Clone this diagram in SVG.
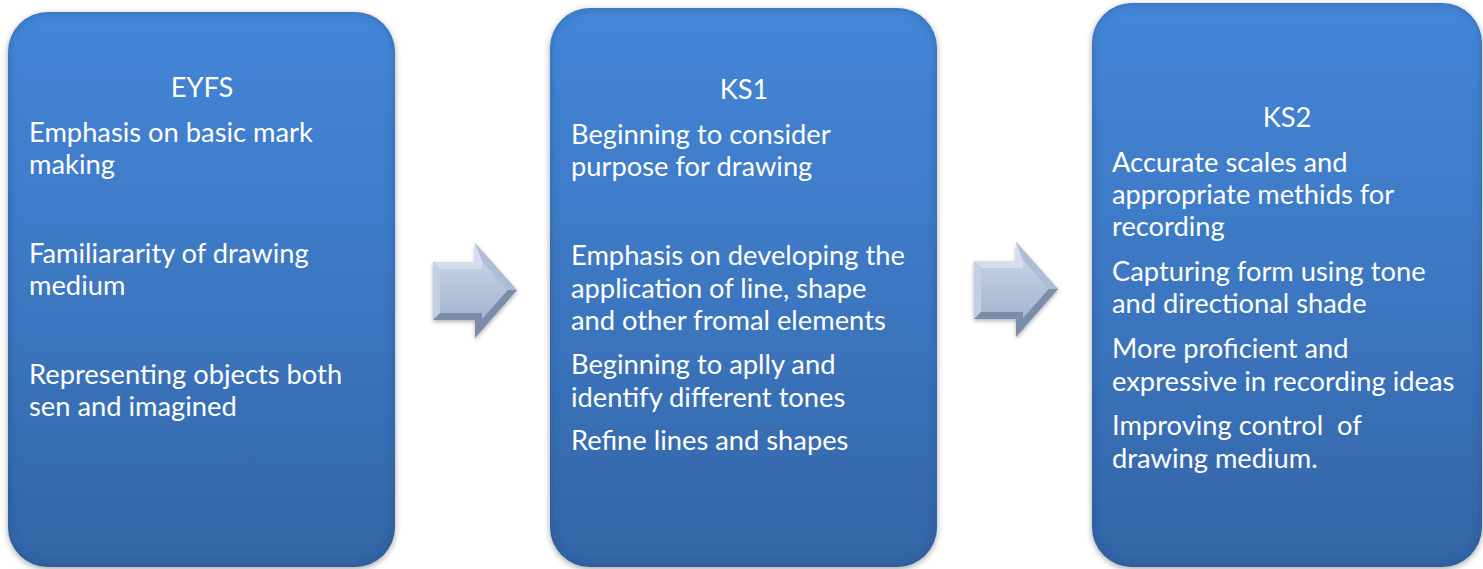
<svg xmlns="http://www.w3.org/2000/svg" width="1483" height="569" viewBox="0 0 1483 569">
  <style>
    .box { fill: url(#boxFill); filter: url(#boxFx); }
    .title { font-family: Lato, "Open Sans", sans-serif; font-size: 27.3px; fill: #ffffff; text-anchor: middle; }
    .body { font-family: Lato, "Open Sans", sans-serif; font-size: 27.3px; fill: #ffffff; white-space: pre; }
  </style>
  <defs>
    <linearGradient id="boxFill" x1="0" y1="0" x2="0" y2="1">
      <stop offset="0" stop-color="#4486d7"/>
      <stop offset="0.5" stop-color="#3c77c2"/>
      <stop offset="1" stop-color="#3465a6"/>
    </linearGradient>
    <!-- soft outer shadow plus darkened inner rim -->
    <filter id="boxFx" x="-5%" y="-5%" width="110%" height="110%">
      <feGaussianBlur in="SourceAlpha" stdDeviation="3" result="sb"/>
      <feOffset in="sb" dx="0" dy="2" result="so"/>
      <feFlood flood-color="#000000" flood-opacity="0.35" result="sc"/>
      <feComposite in="sc" in2="so" operator="in" result="shadow"/>
      <feGaussianBlur in="SourceAlpha" stdDeviation="4" result="ib"/>
      <feComposite in="SourceAlpha" in2="ib" operator="out" result="rim"/>
      <feFlood flood-color="#1d3f70" flood-opacity="0.55" result="rc"/>
      <feComposite in="rc" in2="rim" operator="in" result="rimc"/>
      <feMerge>
        <feMergeNode in="shadow"/>
        <feMergeNode in="SourceGraphic"/>
        <feMergeNode in="rimc"/>
      </feMerge>
    </filter>
    <linearGradient id="arrowFace" x1="0" y1="0" x2="0" y2="1">
      <stop offset="0" stop-color="#c4d0e5"/>
      <stop offset="1" stop-color="#a5b5d0"/>
    </linearGradient>
    <filter id="arrowFx" x="-20%" y="-20%" width="140%" height="140%">
      <feDropShadow dx="0" dy="2" stdDeviation="2" flood-color="#000000" flood-opacity="0.3"/>
    </filter>
    <!-- bevelled block arrow, local 84 x 95 -->
    <g id="blockArrow" filter="url(#arrowFx)">
      <polygon points="0,19 42,19 42,0 84,47 42,95 42,77 0,77" fill="#9aabc8"/>
      <polygon points="0,19 42,19 42,0 84,47 74.6,47 49,18 49,26 7,26" fill="#d3ddee"/>
      <polygon points="42,0 84,47 74.6,47 49,18" fill="#aebdd6"/>
      <polygon points="0,19 7,26 7,70 0,77" fill="#c3cfe4"/>
      <polygon points="84,47 42,95 42,77 0,77 7,70 49,70 49,76 74.6,47" fill="#7b8dac"/>
      <polygon points="7,26 49,26 49,18 74.6,47 49,76 49,70 7,70" fill="url(#arrowFace)"/>
    </g>
  </defs>

  <rect width="1483" height="569" fill="#ffffff"/>

  <g id="connectors">
    <use href="#blockArrow" transform="translate(433,243)"/>
    <use href="#blockArrow" transform="translate(974,242)"/>
  </g>

  <g id="node-eyfs">
    <rect class="box" x="8" y="12" width="387" height="555" rx="40" ry="40"/>
    <text class="title" x="202" y="97">EYFS</text>
    <text class="body" x="29" y="142">Emphasis on basic mark</text>
    <text class="body" x="29" y="174">making</text>
    <text class="body" x="29" y="263">Familiararity of drawing</text>
    <text class="body" x="29" y="295">medium</text>
    <text class="body" x="29" y="384">Representing objects both</text>
    <text class="body" x="29" y="416">sen and imagined</text>
  </g>

  <g id="node-ks1">
    <rect class="box" x="550" y="8" width="387" height="559" rx="40" ry="40"/>
    <text class="title" x="744" y="99">KS1</text>
    <text class="body" x="571" y="144">Beginning to consider</text>
    <text class="body" x="571" y="176">purpose for drawing</text>
    <text class="body" x="571" y="265">Emphasis on developing the</text>
    <text class="body" x="571" y="297.5">application of line, shape</text>
    <text class="body" x="571" y="330">and other fromal elements</text>
    <text class="body" x="571" y="374">Beginning to aplly and</text>
    <text class="body" x="571" y="406.5">identify different tones</text>
    <text class="body" x="571" y="450">Refine lines and shapes</text>
  </g>

  <g id="node-ks2">
    <rect class="box" x="1092" y="3" width="390" height="564" rx="40" ry="40"/>
    <text class="title" x="1287" y="127">KS2</text>
    <text class="body" x="1112" y="171.5">Accurate scales and</text>
    <text class="body" x="1112" y="204">appropriate methids for</text>
    <text class="body" x="1112" y="236">recording</text>
    <text class="body" x="1112" y="281">Capturing form using tone</text>
    <text class="body" x="1112" y="313">and directional shade</text>
    <text class="body" x="1112" y="358">More proficient and</text>
    <text class="body" x="1112" y="390.5">expressive in recording ideas</text>
    <text class="body" x="1112" y="435">Improving control  of</text>
    <text class="body" x="1112" y="467.5">drawing medium.</text>
  </g>
</svg>
